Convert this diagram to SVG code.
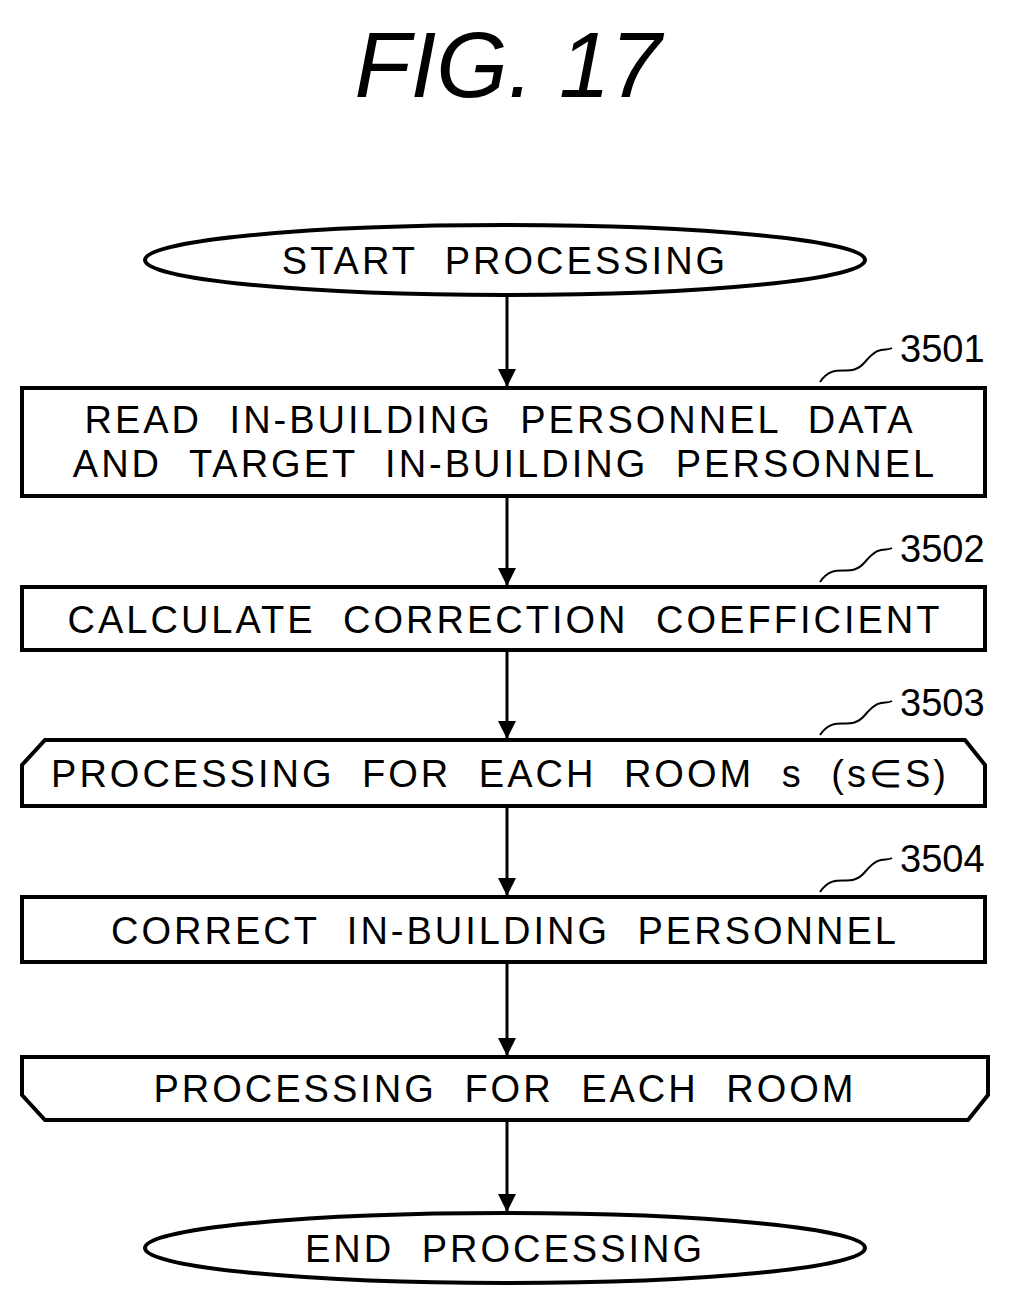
<svg xmlns="http://www.w3.org/2000/svg" width="1022" height="1310" viewBox="0 0 1022 1310">
<style>
.s{fill:#fff;stroke:#000;stroke-width:4}
.t{font-family:"Liberation Sans",Arial,sans-serif;font-size:38px;text-anchor:middle;letter-spacing:3px;word-spacing:14px}
.n{font-family:"Liberation Sans",Arial,sans-serif;font-size:38px}
.c{fill:none;stroke:#000;stroke-width:3}
.l{fill:none;stroke:#000;stroke-width:2}
</style>
<defs><marker id="a" markerWidth="18" markerHeight="22" refX="17" refY="9" orient="auto" markerUnits="userSpaceOnUse"><path d="M0,0L18,9L0,18z"/></marker></defs>
<rect width="1022" height="1310" fill="#fff"/>
<text x="508" y="97" font-family="Liberation Sans,Arial,sans-serif" font-size="92" font-style="italic" text-anchor="middle">FIG. 17</text>
<g id="connectors">
<line class="c" x1="507" y1="296" x2="507" y2="386" marker-end="url(#a)"/>
<line class="c" x1="507" y1="498" x2="507" y2="585" marker-end="url(#a)"/>
<line class="c" x1="507" y1="652" x2="507" y2="738" marker-end="url(#a)"/>
<line class="c" x1="507" y1="808" x2="507" y2="895" marker-end="url(#a)"/>
<line class="c" x1="507" y1="964" x2="507" y2="1055" marker-end="url(#a)"/>
<line class="c" x1="507" y1="1122" x2="507" y2="1211" marker-end="url(#a)"/>
</g>
<g id="start"><ellipse class="s" cx="505" cy="260" rx="360" ry="35"/><text class="t" x="505" y="274">START PROCESSING</text></g>
<g id="n3501"><rect class="s" x="22" y="388" width="963" height="108"/><text class="t" x="500" y="433">READ IN-BUILDING PERSONNEL DATA</text><text class="t" x="505" y="477">AND TARGET IN-BUILDING PERSONNEL</text>
<path class="l" d="M820,382 C835,360 850,380 865,362 S885,352 892,348"/><text class="n" x="900" y="362">3501</text></g>
<g id="n3502"><rect class="s" x="22" y="587" width="963" height="63"/><text class="t" x="505" y="633">CALCULATE CORRECTION COEFFICIENT</text>
<path class="l" d="M820,582 C835,560 850,580 865,562 S885,552 892,548"/><text class="n" x="900" y="562">3502</text></g>
<g id="n3503"><path class="s" d="M45,740 L965,740 L985,765 L985,806 L22,806 L22,765 Z"/><text class="t" x="500" y="787">PROCESSING FOR EACH ROOM s (s∈S)</text>
<path class="l" d="M820,735 C835,713 850,733 865,715 S885,705 892,701"/><text class="n" x="900" y="716">3503</text></g>
<g id="n3504"><rect class="s" x="22" y="897" width="963" height="65"/><text class="t" x="505" y="944">CORRECT IN-BUILDING PERSONNEL</text>
<path class="l" d="M820,892 C835,870 850,890 865,872 S885,862 892,858"/><text class="n" x="900" y="872">3504</text></g>
<g id="loopend"><path class="s" d="M22,1057 L988,1057 L988,1095 L968,1120 L45,1120 L22,1095 Z"/><text class="t" x="505" y="1102">PROCESSING FOR EACH ROOM</text></g>
<g id="end"><ellipse class="s" cx="505" cy="1248" rx="360" ry="35"/><text class="t" x="505" y="1262">END PROCESSING</text></g>
</svg>
